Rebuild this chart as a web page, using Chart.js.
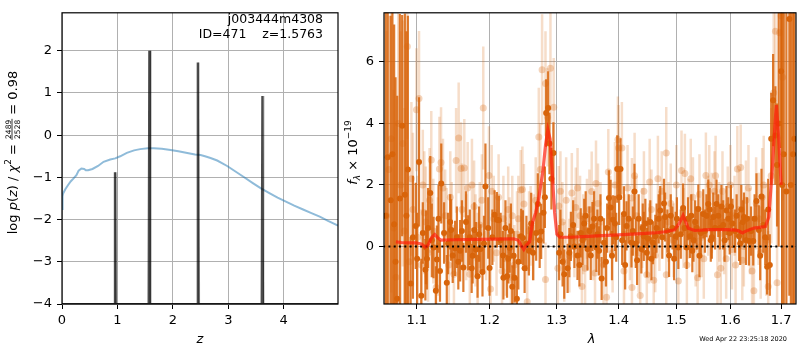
<!DOCTYPE html>
<html>
<head>
<meta charset="utf-8">
<script src="https://cdn.jsdelivr.net/npm/chart.js@4.4.1/dist/chart.umd.min.js"></script>
<style>
    html, body { margin: 0; padding: 0; background: #fff; }
    #wrap { position: relative; width: 800px; height: 350px; }
    #left { position: absolute; left: 0; top: 0; width: 340px; height: 350px; }
    #right { position: absolute; left: 340px; top: 0; width: 460px; height: 350px; }
</style>
</head>
<body>
<div id="wrap">
    <canvas id="left" width="340" height="350"></canvas>
    <canvas id="right" width="460" height="350"></canvas>
</div>
<script>
// ---- left panel: redshift fit ----
const zTicks = [0, 1, 2, 3, 4];
const logpTicks = [-4, -3, -2, -1, 0, 1, 2];

// chi2 curve (log p(z) axis units)
const chiZ = [0, 0.01, 0.02, 0.06, 0.11, 0.16, 0.205, 0.26, 0.30, 0.35, 0.40, 0.43, 0.47, 0.55, 0.65, 0.75, 0.87, 0.96, 1.05,
    1.17, 1.30, 1.41, 1.55, 1.655, 1.80, 1.96, 2.10, 2.26, 2.40, 2.50, 2.58, 2.68, 2.80, 2.98, 3.13, 3.28, 3.45, 3.59,
    3.75, 3.89, 4.05, 4.19, 4.35, 4.49, 4.65, 4.80, 4.98];
const chiLogp = [-1.75, -1.45, -1.38, -1.28, -1.18, -1.09, -1.03, -0.95, -0.84, -0.79, -0.80, -0.83, -0.83, -0.80, -0.73, -0.63,
    -0.575, -0.55, -0.5, -0.42, -0.36, -0.33, -0.31, -0.31, -0.32, -0.35, -0.38, -0.42, -0.46, -0.47, -0.5, -0.54, -0.6,
    -0.73, -0.86, -0.99, -1.14, -1.26, -1.38, -1.48, -1.58, -1.67, -1.76, -1.84, -1.93, -2.03, -2.14];

// p(z) peaks
const peakZ = [0.955, 1.575, 2.45, 3.615];
const peakLogp = [-0.88, 2.0, 1.72, 0.93];

// ---- right panel: spectrum ----
const lamTicks = [1.1, 1.2, 1.3, 1.4, 1.5, 1.6, 1.7];
const fluxTicks = [0, 2, 4, 6];

// first spectrum (solid points)
const darkWave = [1.0625, 1.0663, 1.0707, 1.0746, 1.0780, 1.0810, 1.0845, 1.0884, 1.0920, 1.0987, 1.1030, 1.1060, 1.1080,
    1.1114, 1.1122, 1.1135, 1.1179, 1.1223, 1.1254, 1.1268, 1.1327, 1.1365, 1.1402, 1.1448, 1.1460, 1.1483, 1.1516,
    1.1585, 1.1630, 1.1666, 1.1697, 1.1746, 1.1784, 1.1807, 1.1829, 1.1871, 1.1899, 1.1941, 1.2072, 1.2105, 1.2134,
    1.2195, 1.2200, 1.2253, 1.2292, 1.2330, 1.2364, 1.2398, 1.2462, 1.2488, 1.2513, 1.2577, 1.2612, 1.2687, 1.2712,
    1.2763, 1.2799, 1.2839, 1.2890, 1.2951, 1.3040, 1.3094, 1.3172, 1.3224, 1.3280, 1.3329, 1.3381, 1.3436, 1.3489,
    1.3542, 1.3569, 1.3596, 1.3633, 1.3677, 1.3719, 1.3758, 1.3840, 1.3867, 1.3906, 1.3939, 1.3977, 1.4032, 1.4089,
    1.4133, 1.4217, 1.4268, 1.4313, 1.4386, 1.4428, 1.4455, 1.4500, 1.4587, 1.4627, 1.4686, 1.4714, 1.4800, 1.4870,
    1.4930, 1.4988, 1.5036, 1.5121, 1.5186, 1.5245, 1.5289, 1.5340, 1.5399, 1.5446, 1.5490, 1.5583, 1.5630, 1.5676,
    1.5738, 1.5800, 1.5863, 1.5926, 1.5987, 1.6040, 1.6167, 1.6210, 1.6262, 1.6359, 1.6443, 1.6507, 1.6554, 1.6606,
    1.6718, 1.6772, 1.6838, 1.6884, 1.6918, 1.7000, 1.7054, 1.7107, 1.7168, 1.7243];
const darkFlux = [2.9, 1.5, 0.72, -1.7, 1.56, 3.93, 1.68, 2.5, -1.2, 0.67, 2.75, -1.6, 0.44,
    -0.76, -0.03, -0.4, 1.74, -0.03, -1.44, -0.42, 2.05, 0.44, -1.18, 0.8, 0.54, -0.29, -0.06,
    -0.14, -0.68, 0.8, 0.12, -0.71, 0.54, -0.1, -0.97, -0.08, -0.83, 1.95, 1.03, 0.87, 0.85,
    -0.29, -1.02, -0.97, -0.05, -1.31, -1.02, -1.7, 0.33, 0.28, -0.71, -0.14, 0.75, 0.44, 1.38,
    0.49, 1.1, 4.34, 3.35, 3.04, -0.2, -0.5, -0.71, 0.33, 0.0, -0.29, 0.44, 0.75, -0.08,
    -0.29, 0.65, 0.9, -0.03, -0.14, -1.04, 0.12, 1.58, 1.27, 0.87, 0.75, 2.52, 2.52, 1.06,
    0.67, 0.12, 1.79, -0.45, -0.08, 0.33, 0.75, 0.25, 0.12, 0.33, 0.9, 1.17, 0.96, -0.29,
    0.6, 0.33, -0.03, 1.25, -0.03, 0.33, -0.14, 0.8, 1.22, 0.44, 1.06, 1.38, 0.2, 0.96,
    1.38, 0.6, 0.7, 1.17, 0.44, 0.75, 0.33, 1.2, 0.96, 0.18, 0.18, 1.48, 0.54, 1.63,
    -0.66, -0.6, 4.76, 3.61, 2.65, 5.7, 3.0, 1.79, 7.4, 3.0];
const darkErr = [4.8, 6.0, 6.5, 6.6, 6.0, 3.6, 5.9, 5.0, 1.5, 1.4, 2.1, 1.2, 1.0,
    1.0, 1.2, 1.0, 1.2, 1.0, 0.8, 1.1, 1.3, 1.0, 0.9, 0.9, 1.0, 0.9, 0.9,
    1.0, 0.8, 1.0, 0.9, 0.8, 0.9, 0.9, 0.7, 0.8, 0.8, 1.4, 0.8, 0.9, 0.8,
    0.8, 0.7, 0.7, 0.8, 0.7, 0.8, 0.7, 0.9, 0.9, 0.8, 0.8, 1.0, 0.9, 1.0,
    0.9, 1.0, 1.1, 1.0, 1.0, 0.9, 0.8, 0.8, 0.8, 0.7, 0.8, 0.8, 0.8, 0.7,
    0.8, 0.8, 0.9, 0.8, 0.8, 0.7, 0.8, 0.9, 0.9, 0.8, 0.9, 1.1, 1.0, 0.9,
    0.8, 0.8, 0.9, 0.8, 0.8, 0.8, 0.8, 0.7, 0.7, 0.7, 0.8, 0.8, 0.8, 0.7,
    0.7, 0.8, 0.7, 0.8, 0.7, 0.7, 0.7, 0.7, 0.8, 0.7, 0.8, 0.8, 0.7, 0.8,
    0.8, 0.7, 0.8, 0.8, 0.7, 0.8, 0.8, 0.8, 0.8, 0.8, 0.8, 0.9, 0.8, 0.9,
    0.9, 1.0, 1.5, 1.6, 2.0, 2.5, 6.0, 7.0, 9.0, 7.0];

// more solid points read between the ones above
const darkWave2 = [1.0600, 1.0685, 1.0725, 1.0865, 1.0950, 1.1005, 1.1150, 1.1200, 1.1290, 1.1310, 1.1420, 1.1540,
    1.1560, 1.1610, 1.1720, 1.1760, 1.1850, 1.1920, 1.1980, 1.2000, 1.2040, 1.2160, 1.2230, 1.2270, 1.2310, 1.2350,
    1.2420, 1.2540, 1.2640, 1.2740, 1.2820, 1.2870, 1.2920, 1.3060, 1.3120, 1.3200, 1.3260, 1.3360, 1.3410, 1.3460,
    1.3520, 1.3650, 1.3700, 1.3790, 1.3810, 1.3890, 1.3960, 1.4010, 1.4060, 1.4110, 1.4170, 1.4240, 1.4290, 1.4340,
    1.4410, 1.4480, 1.4540, 1.4560, 1.4650, 1.4750, 1.4780, 1.4840, 1.4900, 1.4960, 1.5010, 1.5080, 1.5150, 1.5210,
    1.5270, 1.5310, 1.5370, 1.5420, 1.5520, 1.5550, 1.5610, 1.5650, 1.5710, 1.5770, 1.5830, 1.5890, 1.5960, 1.6010,
    1.6090, 1.6120, 1.6190, 1.6240, 1.6300, 1.6320, 1.6400, 1.6470, 1.6580, 1.6640, 1.6680, 1.6740, 1.6800, 1.6950,
    1.7020, 1.7200, 1.7270];
const darkFlux2 = [1.0, 3.0, -0.5, 1.0, 0.3, -0.4, 0.6, 0.2, 0.9, -0.8, 0.1, 0.3,
    -0.5, 0.5, 0.3, -0.3, 0.4, 0.1, 0.6, -0.7, 0.3, 0.2, 0.6, -0.4, 0.5, -0.3,
    -0.5, 0.1, -0.2, 0.2, 1.6, 4.5, 2.2, 0.4, -0.9, -0.2, 0.7, -0.6, 0.2, 1.0,
    0.5, 0.4, 0.9, -0.5, 0.6, -0.3, 0.3, 1.6, 0.2, -0.6, 0.9, 0.5, 0.1, 0.9,
    0.6, -0.2, 0.8, -0.4, 0.6, 0.3, 1.4, 0.5, 1.0, -0.4, 0.9, 0.4, 0.6, 0.9,
    1.0, 0.2, 0.6, -0.3, 0.5, 1.0, 1.2, 0.3, 0.6, 1.0, 1.3, 0.2, 0.9, 1.3,
    0.5, 1.0, 0.1, 0.8, 0.2, 0.9, 0.5, 0.9, -0.3, 0.7, 0.3, 1.2, 3.5, 4.0,
    2.0, 2.0, 3.5];
const darkErr2 = [7.0, 6.0, 6.0, 6.0, 2.0, 1.5, 1.3, 1.2, 1.1, 1.0, 1.0, 1.0,
    0.9, 1.0, 0.9, 0.9, 0.9, 0.9, 1.0, 0.9, 0.9, 0.9, 0.9, 0.8, 0.9, 0.8,
    0.9, 0.9, 0.9, 0.9, 1.0, 1.2, 1.0, 0.8, 0.8, 0.8, 0.8, 0.7, 0.8, 0.8,
    0.8, 0.8, 0.8, 0.8, 0.8, 0.8, 0.8, 0.9, 0.8, 0.8, 0.8, 0.8, 0.8, 0.8,
    0.8, 0.8, 0.7, 0.7, 0.8, 0.7, 0.8, 0.7, 0.7, 0.7, 0.7, 0.8, 0.7, 0.7,
    0.7, 0.7, 0.7, 0.7, 0.7, 0.7, 0.7, 0.7, 0.7, 0.7, 0.7, 0.7, 0.7, 0.7,
    0.7, 0.7, 0.7, 0.7, 0.8, 0.7, 0.8, 0.8, 0.8, 0.9, 0.9, 1.0, 1.5, 4.0,
    7.0, 8.0, 8.0];

// second spectrum (faint points)
const lightWave = [1.0640, 1.0700, 1.0760, 1.0818, 1.0877, 1.0900, 1.0950, 1.0996, 1.1030, 1.1060, 1.1100, 1.1150, 1.1193,
    1.1220, 1.1258, 1.1302, 1.1324, 1.1380, 1.1430, 1.1470, 1.1530, 1.1565, 1.1598, 1.1643, 1.1670, 1.1690, 1.1720,
    1.1780, 1.1830, 1.1860, 1.1910, 1.1991, 1.2014, 1.2060, 1.2130, 1.2180, 1.2234, 1.2290, 1.2330, 1.2360, 1.2400,
    1.2454, 1.2503, 1.2552, 1.2603, 1.2650, 1.2727, 1.2777, 1.2829, 1.2829, 1.2905, 1.2956, 1.3020, 1.3034, 1.3090,
    1.3150, 1.3200, 1.3239, 1.3302, 1.3370, 1.3420, 1.3451, 1.3520, 1.3557, 1.3611, 1.3627, 1.3700, 1.3800, 1.3829,
    1.3900, 1.3988, 1.4055, 1.4100, 1.4150, 1.4225, 1.4225, 1.4300, 1.4366, 1.4400, 1.4480, 1.4529, 1.4560, 1.4626,
    1.4673, 1.4700, 1.4820, 1.4820, 1.4900, 1.4950, 1.5036, 1.5093, 1.5154, 1.5220, 1.5300, 1.5386, 1.5460, 1.5539,
    1.5602, 1.5650, 1.5700, 1.5755, 1.5817, 1.5880, 1.5950, 1.6030, 1.6080, 1.6134, 1.6198, 1.6230, 1.6300, 1.6380,
    1.6456, 1.6550, 1.6620, 1.6700, 1.6800, 1.6885, 1.6918, 1.6970, 1.7030];
const lightFlux = [2.5, 0.6, 4.0, 3.35, 6.5, -0.5, 1.2, 4.45, 4.81, -0.6, 1.1, -0.2, 2.81,
    0.5, -1.33, 2.52, 2.73, 1.0, -0.6, 0.6, 2.8, 3.53, 2.54, 2.55, 0.3, 1.9, -0.9,
    1.3, -0.4, 0.7, 4.5, 2.31, -1.38, 0.9, 1.6, -0.8, -0.4, 0.2, 1.0, -0.6, 0.4,
    1.84, 1.38, -1.8, 0.67, 0.3, 3.56, 5.75, 5.3, -1.07, 5.8, 4.53, -0.71, 1.32, 0.8,
    1.5, -0.3, 1.74, 1.27, 1.0, 0.4, -0.71, 1.2, 1.79, -0.86, 2.05, 0.8, -1.65, 2.42,
    -0.2, 3.48, 3.2, 0.4, 1.9, 1.58, -1.33, 1.0, -1.59, 0.6, -0.92, 2.1, 1.2, -0.29,
    2.2, 0.5, 3.04, -0.92, 1.4, 0.2, -1.12, 2.47, 2.37, 0.9, 1.6, -1.02, 0.3, 2.31,
    2.0, 1.1, 1.8, -0.92, -0.71, 0.4, 1.3, -0.1, 1.0, 2.52, 2.57, -0.45, 1.5, 0.5,
    -1.44, 0.9, 1.6, 0.2, 2.3, 7.0, -1.18, 6.95, 5.5];
const lightErr = [5.0, 4.5, 4.0, 4.0, 3.0, 3.0, 2.5, 2.0, 2.2, 1.8, 2.0, 1.6, 1.6,
    1.7, 1.6, 1.7, 1.8, 1.5, 1.5, 1.5, 1.7, 1.8, 1.5, 1.6, 1.4, 1.5, 1.4,
    1.5, 1.5, 1.4, 2.0, 1.6, 1.3, 1.4, 1.4, 1.3, 1.2, 1.4, 1.3, 1.3, 1.4,
    1.3, 1.3, 1.2, 1.3, 1.4, 1.6, 1.8, 1.7, 1.2, 1.8, 1.6, 1.2, 1.3, 1.3,
    1.4, 1.2, 1.3, 1.3, 1.3, 1.3, 1.3, 1.3, 1.3, 1.2, 1.4, 1.3, 1.2, 1.4,
    1.3, 1.4, 1.5, 1.3, 1.4, 1.3, 1.2, 1.3, 1.3, 1.3, 1.2, 1.4, 1.3, 1.2,
    1.4, 1.3, 1.5, 1.2, 1.3, 1.2, 1.2, 1.3, 1.3, 1.3, 1.3, 1.3, 1.3, 1.4,
    1.3, 1.3, 1.3, 1.2, 1.2, 1.3, 1.3, 1.3, 1.3, 1.4, 1.4, 1.3, 1.3, 1.4,
    1.4, 1.5, 1.6, 1.8, 2.2, 3.0, 3.0, 3.0, 4.0];

const lightWave2 = [1.0610, 1.0670, 1.0730, 1.0790, 1.0840, 1.0930, 1.1010, 1.1080, 1.1120, 1.1170, 1.1280, 1.1350,
    1.1400, 1.1450, 1.1500, 1.1610, 1.1750, 1.1800, 1.1890, 1.1950, 1.2030, 1.2100, 1.2200, 1.2270, 1.2310, 1.2420,
    1.2480, 1.2580, 1.2680, 1.2750, 1.2860, 1.3060, 1.3120, 1.3280, 1.3330, 1.3400, 1.3480, 1.3580, 1.3660, 1.3750,
    1.3860, 1.3940, 1.4000, 1.4090, 1.4190, 1.4270, 1.4340, 1.4430, 1.4520, 1.4600, 1.4740, 1.4860, 1.5000, 1.5130,
    1.5190, 1.5260, 1.5350, 1.5420, 1.5500, 1.5580, 1.5720, 1.5790, 1.5850, 1.5920, 1.6000, 1.6100, 1.6170, 1.6260,
    1.6350, 1.6420, 1.6500, 1.6590, 1.6650, 1.6740, 1.6850, 1.7000];
const lightFlux2 = [1.0, 3.5, -1.0, 2.0, 0.5, 2.2, 0.3, 2.0, 0.8, 1.5, 0.0, 1.9,
    0.4, 1.6, -0.9, 1.2, 2.0, 0.2, 1.5, 0.4, 1.8, -0.2, 0.9, 1.2, -1.0, 0.9,
    1.85, 0.5, 1.5, 2.5, 4.2, 1.8, -0.5, 0.3, 1.9, -1.3, 0.9, 0.2, 1.4, -0.6,
    1.0, 2.0, 3.2, -0.8, 0.2, 2.3, -0.2, 1.8, 0.1, -1.1, 1.8, 0.8, 2.0, 0.6,
    -0.6, 2.2, 0.0, 1.7, -0.4, 1.0, 2.3, 0.8, 1.8, -0.4, 2.0, -0.6, 1.2, 0.0,
    1.9, -0.8, 1.4, -0.2, 2.0, -1.3, 5.0, 7.5];
const lightErr2 = [6.0, 5.0, 5.0, 5.0, 4.0, 2.5, 2.0, 1.8, 1.8, 1.7, 1.6, 1.6,
    1.5, 1.5, 1.5, 1.5, 1.5, 1.5, 1.5, 1.5, 1.5, 1.4, 1.4, 1.4, 1.3, 1.4,
    1.4, 1.3, 1.4, 1.5, 1.6, 1.3, 1.3, 1.3, 1.3, 1.3, 1.3, 1.3, 1.3, 1.3,
    1.3, 1.4, 1.4, 1.3, 1.3, 1.4, 1.3, 1.3, 1.3, 1.3, 1.3, 1.3, 1.3, 1.3,
    1.3, 1.3, 1.3, 1.3, 1.3, 1.3, 1.3, 1.3, 1.3, 1.3, 1.3, 1.3, 1.3, 1.3,
    1.4, 1.4, 1.5, 1.5, 1.6, 1.8, 3.0, 4.0];

// best-fit model
const modelWave = [1.0729, 1.0800, 1.0900, 1.0990, 1.1060, 1.1114, 1.1150, 1.1200, 1.1239, 1.1280, 1.1320, 1.1500,
    1.1800, 1.2100, 1.2354, 1.2420, 1.2470, 1.2500, 1.2540, 1.2588, 1.2627, 1.2680, 1.2727, 1.2788, 1.2830, 1.2865,
    1.2900, 1.2935, 1.2970, 1.3005, 1.3050, 1.3200, 1.3500, 1.3800, 1.4000, 1.4300, 1.4600, 1.4800, 1.4970, 1.5051,
    1.5121, 1.5217, 1.5336, 1.5600, 1.5900, 1.6040, 1.6150, 1.6229, 1.6300, 1.6456, 1.6684, 1.6752, 1.6818, 1.6885,
    1.6905, 1.6953, 1.7000];
const modelFlux = [0.15, 0.13, 0.12, 0.12, 0.08, -0.02, 0.05, 0.30, 0.39, 0.28, 0.21, 0.22,
    0.23, 0.24, 0.25, 0.20, 0.0, -0.1, 0.05, 0.15, 0.75, 1.1, 1.58, 2.42, 3.3, 3.8,
    3.5, 2.3, 1.1, 0.4, 0.3, 0.3, 0.33, 0.36, 0.38, 0.41, 0.44, 0.48, 0.54, 0.75,
    1.01, 0.59, 0.52, 0.55, 0.55, 0.54, 0.52, 0.44, 0.5, 0.6, 0.65, 0.96, 2.42, 4.19,
    4.6, 3.46, 2.0];

const FAMILY = '"DejaVu Sans", sans-serif';
const ORANGE = 'rgb(216,100,10)';

Chart.defaults.font.family = FAMILY;
Chart.defaults.color = '#000';

function pairs(xs, ys) {
    return xs.map((x, i) => ({ x, y: ys[i] }));
}

// narrow peaks drawn as spikes up from the bottom of the axis
function spikes(zs, tops, dz, hw) {
    const pts = [{ x: 0, y: -4 }];
    zs.forEach((z, i) => {
        pts.push({ x: z + dz - hw, y: -4 }, { x: z + dz, y: tops[i] }, { x: z + dz + hw, y: -4 });
    });
    pts.push({ x: 5, y: -4 });
    return pts;
}

function fixedTicks(values) {
    return (scale) => { scale.ticks = values.map((v) => ({ value: v })); };
}

const minus = (v) => String(v).replace('-', '\u2212');

// vertical error bars, drawn just under each dataset's markers
const errorBars = {
    id: 'errorBars',
    beforeDatasetDraw(chart, args) {
        const ds = chart.data.datasets[args.index];
        if (!ds.errors) return;
        const { ctx, chartArea, scales } = chart;
        ctx.save();
        ctx.beginPath();
        ctx.rect(chartArea.left, chartArea.top, chartArea.width, chartArea.height);
        ctx.clip();
        ctx.strokeStyle = ds.errorColor;
        ctx.lineWidth = ds.errorWidth;
        ds.data.forEach((p, i) => {
            const x = scales.x.getPixelForValue(p.x);
            ctx.beginPath();
            ctx.moveTo(x, scales.y.getPixelForValue(p.y - ds.errors[i]));
            ctx.lineTo(x, scales.y.getPixelForValue(p.y + ds.errors[i]));
            ctx.stroke();
        });
        ctx.restore();
    },
};

// black box around the axes
const spines = {
    id: 'spines',
    afterDraw(chart) {
        const { ctx, chartArea: a } = chart;
        ctx.save();
        ctx.strokeStyle = '#000';
        ctx.lineWidth = 1.2;
        ctx.strokeRect(a.left, a.top, a.right - a.left, a.bottom - a.top);
        ctx.restore();
    },
};

// text with mixed fonts; parts: {t, font, dy} or {frac: [num, den], font}
function drawRich(ctx, parts, cx, cy, rotated) {
    ctx.save();
    ctx.translate(cx, cy);
    if (rotated) ctx.rotate(-Math.PI / 2);
    ctx.fillStyle = '#000';
    ctx.textAlign = 'left';
    ctx.textBaseline = 'alphabetic';
    let total = 0;
    parts.forEach((p) => {
        ctx.font = p.font;
        p.w = p.frac ? Math.max(ctx.measureText(p.frac[0]).width, ctx.measureText(p.frac[1]).width) + 2
            : ctx.measureText(p.t).width;
        total += p.w;
    });
    let x = -total / 2;
    const base = 4.5;
    parts.forEach((p) => {
        ctx.font = p.font;
        if (p.frac) {
            ctx.textAlign = 'center';
            ctx.fillText(p.frac[0], x + p.w / 2, -1.5);
            ctx.fillText(p.frac[1], x + p.w / 2, 7.5);
            ctx.fillRect(x, -0.4, p.w, 0.8);
            ctx.textAlign = 'left';
        } else {
            ctx.fillText(p.t, x, base + (p.dy || 0));
        }
        x += p.w;
    });
    ctx.restore();
}

const N13 = `13px ${FAMILY}`;
const I13 = `italic 13px ${FAMILY}`;
const N9 = `9px ${FAMILY}`;

const leftLabels = {
    id: 'leftLabels',
    afterDraw(chart) {
        const { ctx } = chart;
        ctx.save();
        ctx.fillStyle = '#000';
        ctx.font = `12.5px ${FAMILY}`;
        ctx.textAlign = 'right';
        ctx.textBaseline = 'middle';
        ctx.fillText('j003444m4308', 323, 20);
        ctx.fillText('ID=471    z=1.5763', 323, 35);
        ctx.font = I13;
        ctx.textAlign = 'center';
        ctx.fillText('z', 200, 340);
        ctx.restore();
        drawRich(ctx, [
            { t: 'log ', font: N13 },
            { t: 'p', font: I13 },
            { t: '(', font: N13 },
            { t: 'z', font: I13 },
            { t: ') / ', font: N13 },
            { t: '\u03c7', font: I13 },
            { t: '2', font: N9, dy: -6 },
            { t: ' = ', font: N13 },
            { frac: ['2489', '2528'], font: `7.5px ${FAMILY}` },
            { t: ' = 0.98', font: N13 },
        ], 12, 152.5, true);
    },
};

const rightLabels = {
    id: 'rightLabels',
    afterDraw(chart) {
        const { ctx } = chart;
        ctx.save();
        ctx.fillStyle = '#000';
        ctx.font = I13;
        ctx.textAlign = 'center';
        ctx.textBaseline = 'middle';
        ctx.fillText('\u03bb', 251.5, 340);
        ctx.font = `6.5px ${FAMILY}`;
        ctx.textAlign = 'right';
        ctx.fillText('Wed Apr 22 23:25:18 2020', 447, 339);
        ctx.restore();
        drawRich(ctx, [
            { t: 'f', font: I13 },
            { t: '\u03bb', font: `italic 9px ${FAMILY}`, dy: 3 },
            { t: ' \u00d7 10', font: N13 },
            { t: '\u221219', font: N9, dy: -6 },
        ], 12, 152.5, true);
    },
};

const tickFont = { family: FAMILY, size: 13 };
const gridStyle = { color: '#b0b0b0', lineWidth: 1, tickColor: '#000', tickLength: 5 };

new Chart(document.getElementById('left'), {
    type: 'scatter',
    data: {
        datasets: [
            {
                type: 'line',
                data: pairs(chiZ, chiLogp),
                borderColor: 'rgba(31,119,180,0.5)',
                borderWidth: 2,
                pointRadius: 0,
                order: 3,
            },
            {
                type: 'line',
                data: spikes(peakZ, peakLogp, 0.02, 0.008),
                borderColor: 'rgba(0,0,0,0.3)',
                borderWidth: 1.5,
                pointRadius: 0,
                order: 2,
            },
            {
                type: 'line',
                data: spikes(peakZ, peakLogp, 0, 0.012),
                borderColor: 'rgba(0,0,0,0.7)',
                borderWidth: 2.2,
                pointRadius: 0,
                order: 1,
            },
        ],
    },
    options: {
        responsive: false,
        animation: false,
        devicePixelRatio: 1,
        layout: { padding: { top: 1, right: 2, left: 0, bottom: 0 } },
        plugins: { legend: { display: false }, tooltip: { enabled: false } },
        scales: {
            x: {
                type: 'linear',
                min: 0,
                max: 4.98,
                afterBuildTicks: fixedTicks(zTicks),
                afterFit: (s) => { s.height = 46; },
                grid: gridStyle,
                border: { display: false },
                ticks: { font: tickFont, padding: 4, maxRotation: 0, callback: (v) => minus(v) },
            },
            y: {
                type: 'linear',
                min: -4,
                max: 2.9,
                afterBuildTicks: fixedTicks(logpTicks),
                afterFit: (s) => { s.width = 62; },
                grid: gridStyle,
                border: { display: false },
                ticks: { font: tickFont, padding: 5, callback: (v) => minus(v) },
            },
        },
    },
    plugins: [spines, leftLabels],
});

new Chart(document.getElementById('right'), {
    type: 'scatter',
    data: {
        datasets: [
            {
                data: pairs(lightWave.concat(lightWave2), lightFlux.concat(lightFlux2)),
                errors: lightErr.concat(lightErr2),
                errorColor: 'rgba(216,100,10,0.22)',
                errorWidth: 2.5,
                backgroundColor: 'rgba(216,100,10,0.28)',
                borderWidth: 0,
                pointRadius: 3.5,
                order: 5,
            },
            {
                data: pairs(darkWave.concat(darkWave2), darkFlux.concat(darkFlux2)),
                errors: darkErr.concat(darkErr2),
                errorColor: 'rgba(216,100,10,0.85)',
                errorWidth: 2.2,
                backgroundColor: ORANGE,
                borderWidth: 0,
                pointRadius: 3,
                order: 4,
            },
            {
                type: 'line',
                data: [{ x: 1.05, y: 0 }, { x: 1.74, y: 0 }],
                borderColor: '#000',
                borderWidth: 2,
                borderDash: [2, 3.3],
                pointRadius: 0,
                order: 2,
            },
            {
                type: 'line',
                data: pairs(modelWave, modelFlux),
                borderColor: 'rgba(255,30,10,0.7)',
                borderWidth: 3.2,
                pointRadius: 0,
                order: 1,
            },
        ],
    },
    options: {
        responsive: false,
        animation: false,
        devicePixelRatio: 1,
        layout: { padding: { top: 1, right: 1, left: 0, bottom: 0 } },
        plugins: { legend: { display: false }, tooltip: { enabled: false } },
        scales: {
            x: {
                type: 'logarithmic',
                min: 1.0578,
                max: 1.7305,
                afterBuildTicks: fixedTicks(lamTicks),
                afterFit: (s) => { s.height = 46; },
                grid: gridStyle,
                border: { display: false },
                ticks: { font: tickFont, padding: 4, maxRotation: 0, autoSkip: false, callback: (v) => Number(v).toFixed(1) },
            },
            y: {
                type: 'linear',
                min: -1.87,
                max: 7.6,
                afterBuildTicks: fixedTicks(fluxTicks),
                afterFit: (s) => { s.width = 44; },
                grid: gridStyle,
                border: { display: false },
                ticks: { font: tickFont, padding: 5, callback: (v) => minus(v) },
            },
        },
    },
    plugins: [errorBars, spines, rightLabels],
});
</script>
</body>
</html>
